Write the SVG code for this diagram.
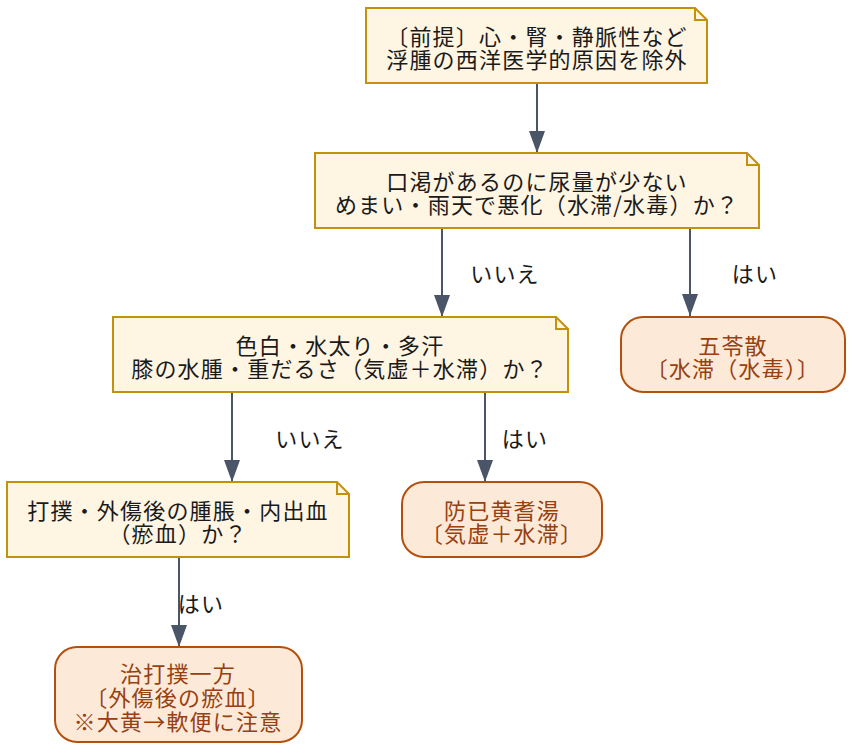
<svg xmlns="http://www.w3.org/2000/svg" width="853" height="750" viewBox="0 0 853 750">
<defs>
<style>
text{font-family:"Noto Sans CJK JP","Noto Sans",sans-serif;font-size:22px;letter-spacing:1.2px;text-anchor:middle;dominant-baseline:central}
.note{fill:#fef5e3;stroke:#c3920c;stroke-width:2}
.fold{fill:none;stroke:#c3920c;stroke-width:2}
.nt{fill:#1a1a1a}
.term{fill:#fce9d8;stroke:#b4500e;stroke-width:2}
.tt{fill:#974010}
.edge{stroke:#4a5568;stroke-width:2;fill:none}
.lbl{fill:#1a1a1a}
</style>
<marker id="ah" markerUnits="userSpaceOnUse" viewBox="0 0 22 16" refX="22" refY="8" markerWidth="22" markerHeight="16" orient="auto">
<path d="M0,0 L22,8 L0,16 Z" fill="#4a5568"/>
</marker>
</defs>
<rect width="853" height="750" fill="#ffffff"/>
<g id="edges">
<path class="edge" d="M537,83 V153" marker-end="url(#ah)"/>
<path class="edge" d="M442,228 V317" marker-end="url(#ah)"/>
<path class="edge" d="M690,228 V316" marker-end="url(#ah)"/>
<path class="edge" d="M232,392 V482" marker-end="url(#ah)"/>
<path class="edge" d="M485,392 V482" marker-end="url(#ah)"/>
<path class="edge" d="M179,557 V647" marker-end="url(#ah)"/>
<text class="lbl" x="505" y="272">いいえ</text>
<text class="lbl" x="755" y="272">はい</text>
<text class="lbl" x="310" y="437">いいえ</text>
<text class="lbl" x="525" y="437">はい</text>
<text class="lbl" x="201" y="602">はい</text>
</g>
<g id="n1">
<path class="note" d="M366,8 H695 L707,20 V83 H366 Z"/>
<path class="fold" d="M695,8 V20 H707"/>
<text class="nt" x="537" y="34.5">〔前提〕心・腎・静脈性など</text>
<text class="nt" x="537" y="58">浮腫の西洋医学的原因を除外</text>
</g>
<g id="n2">
<path class="note" d="M315,153 H747 L759,165 V228 H315 Z"/>
<path class="fold" d="M747,153 V165 H759"/>
<text class="nt" x="537" y="179.5">口渇があるのに尿量が少ない</text>
<text class="nt" x="537" y="203">めまい・雨天で悪化（水滞/水毒）か？</text>
</g>
<g id="n3">
<path class="note" d="M113,317 H556 L568,329 V392 H113 Z"/>
<path class="fold" d="M556,317 V329 H568"/>
<text class="nt" x="340" y="343.5">色白・水太り・多汗</text>
<text class="nt" x="340" y="367">膝の水腫・重だるさ（気虚＋水滞）か？</text>
</g>
<g id="goreisan">
<rect class="term" x="621" y="317" width="224" height="75" rx="22" ry="22"/>
<text class="tt" x="733" y="343.5">五苓散</text>
<text class="tt" x="733" y="367">〔水滞（水毒）〕</text>
</g>
<g id="n4">
<path class="note" d="M7,482 H337 L349,494 V557 H7 Z"/>
<path class="fold" d="M337,482 V494 H349"/>
<text class="nt" x="178" y="508.5">打撲・外傷後の腫脹・内出血</text>
<text class="nt" x="178" y="532">（瘀血）か？</text>
</g>
<g id="boiogito">
<rect class="term" x="402" y="482" width="200" height="75" rx="22" ry="22"/>
<text class="tt" x="502" y="508.5">防已黄耆湯</text>
<text class="tt" x="502" y="532">〔気虚＋水滞〕</text>
</g>
<g id="jidabokuippo">
<rect class="term" x="55" y="647" width="247" height="95" rx="22" ry="22"/>
<text class="tt" x="178" y="671.5">治打撲一方</text>
<text class="tt" x="178" y="695.5">〔外傷後の瘀血〕</text>
<text class="tt" x="178" y="720">※大黄→軟便に注意</text>
</g>
</svg>
